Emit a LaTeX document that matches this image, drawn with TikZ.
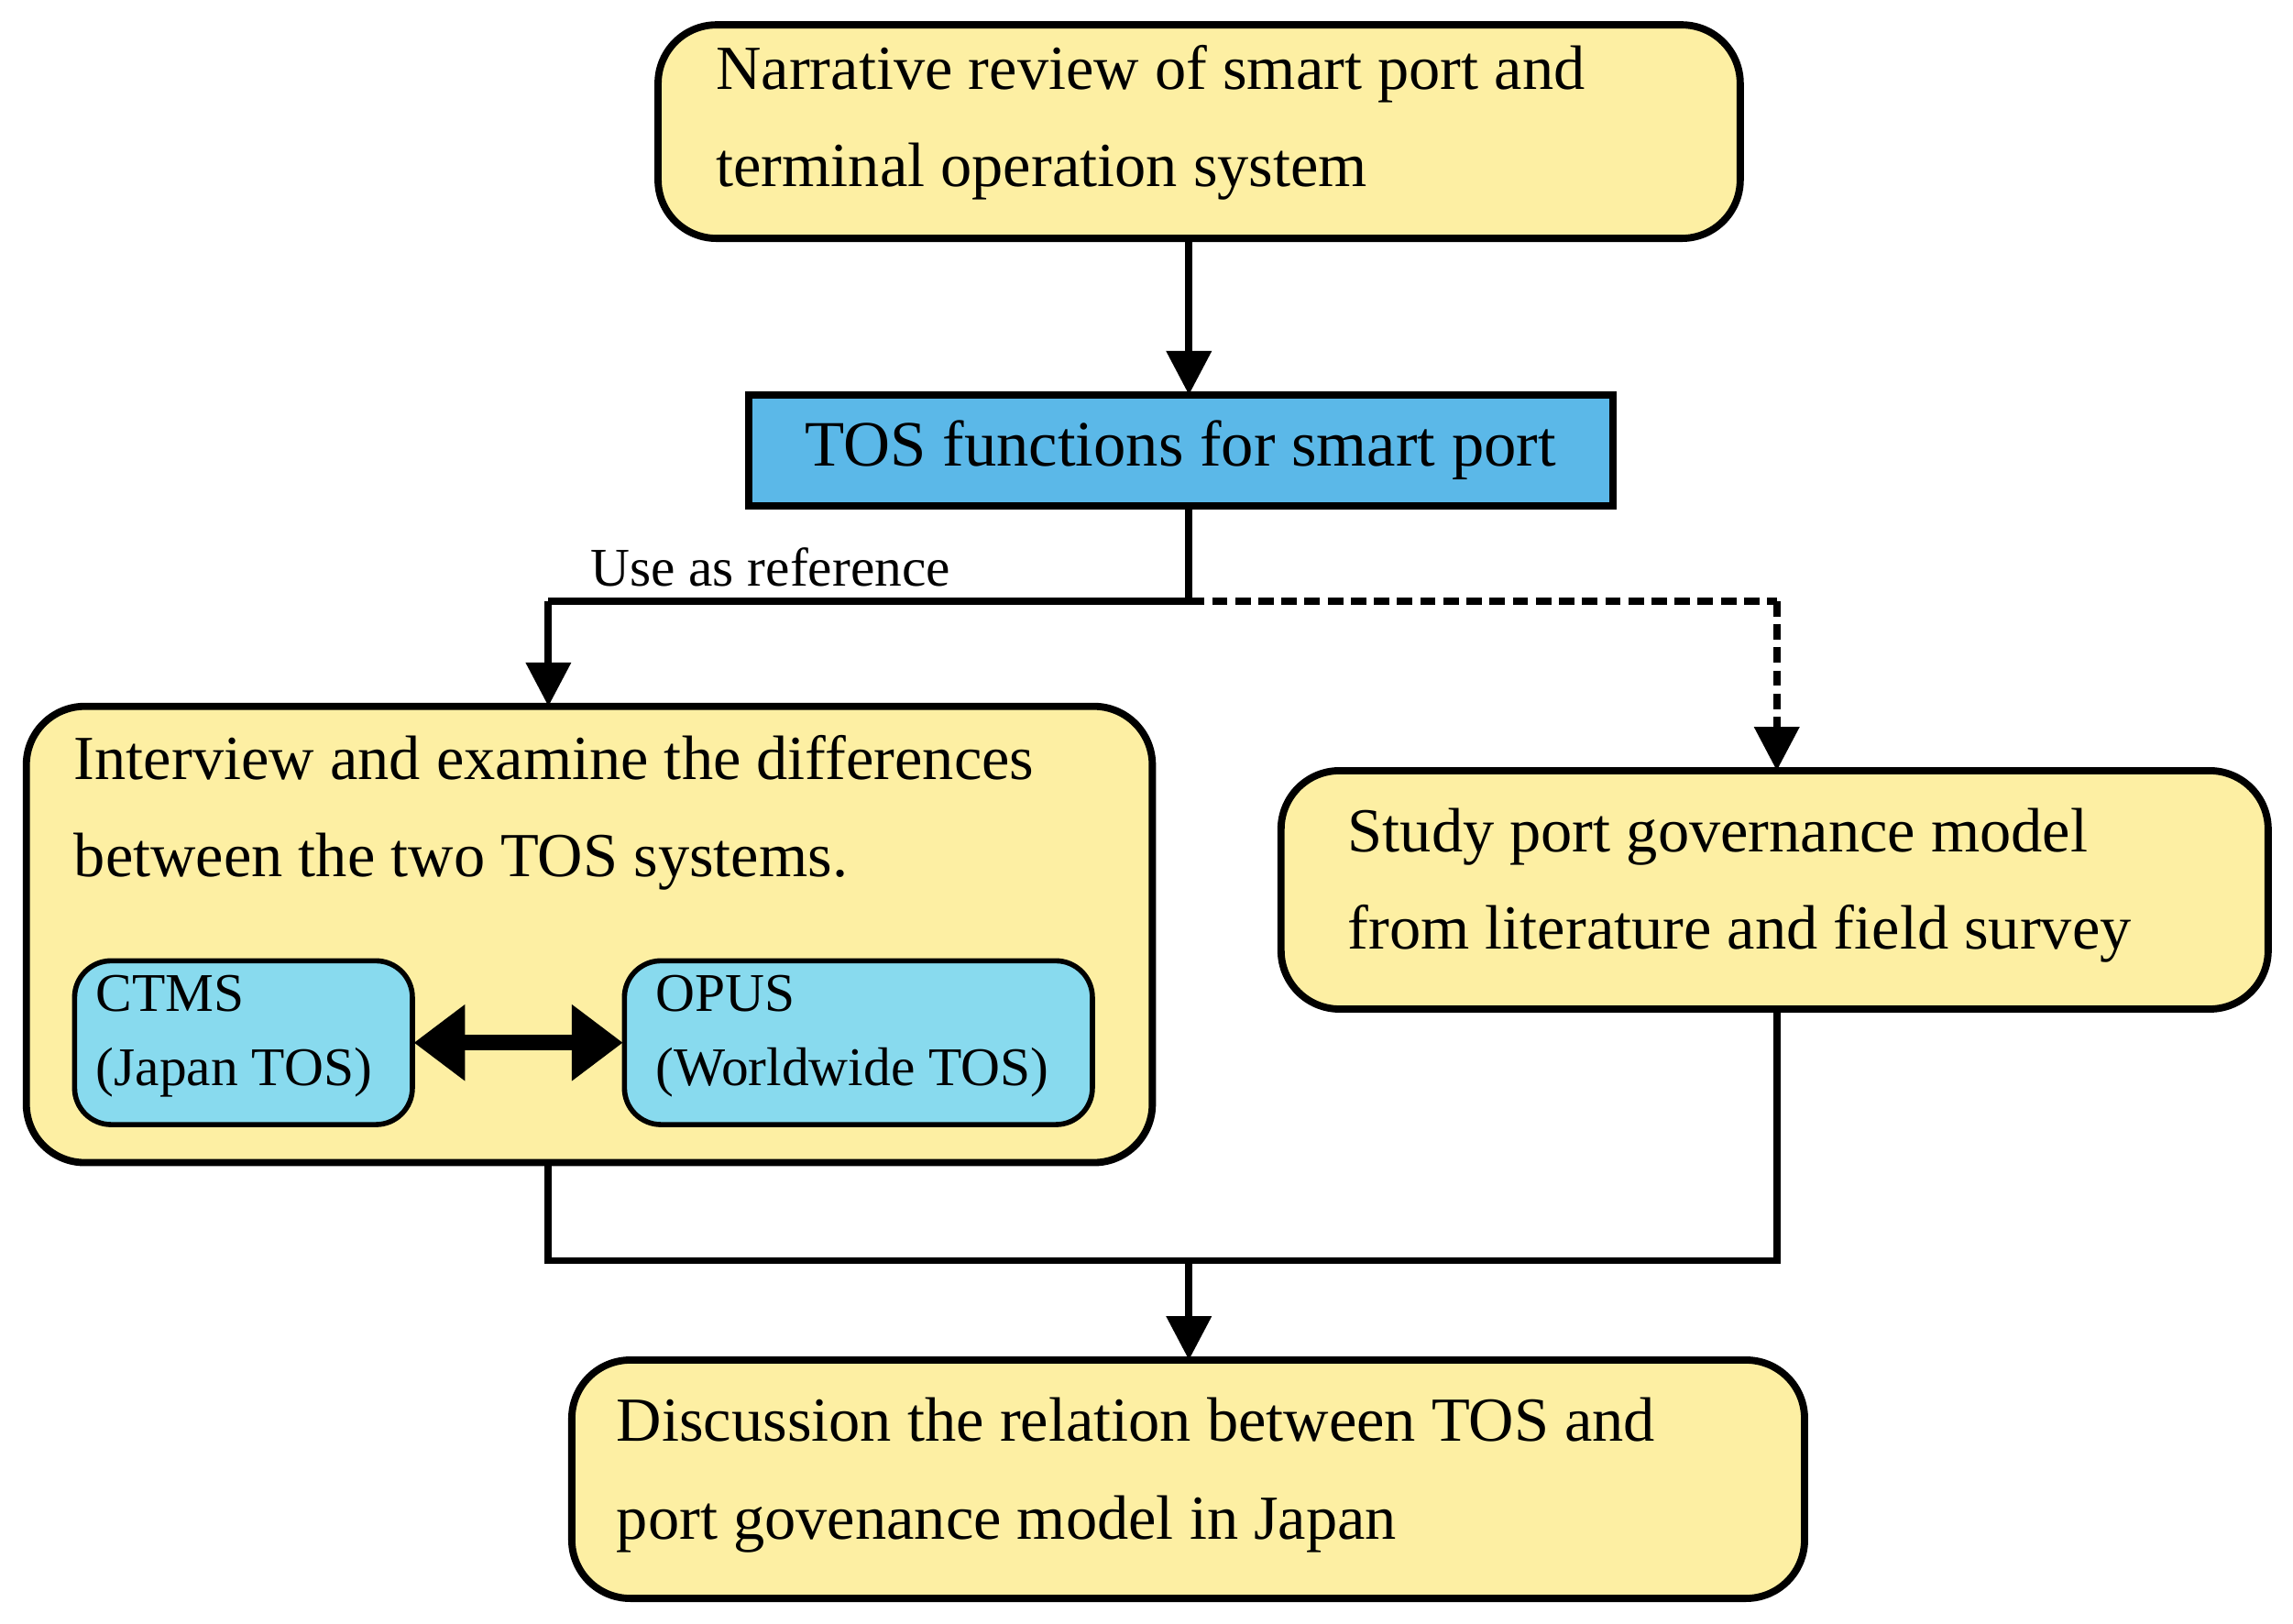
\documentclass[tikz,border=0pt]{standalone}
\usepackage{fontspec}
\setmainfont{Liberation Serif}
\usetikzlibrary{arrows.meta}
\definecolor{pale}{HTML}{FDEFA3}
\definecolor{tosblue}{HTML}{5BB8E8}
\definecolor{lblue}{HTML}{88DAEE}
\begin{document}
\begin{tikzpicture}[x=0.1mm,y=-0.1mm,
  box/.style={draw=black,line width=1.4pt,fill=pale,rounded corners=4mm},
  sbox/.style={draw=black,line width=1pt,fill=lblue,rounded corners=2.5mm},
  txt/.style={anchor=north west,align=left,font=\fontsize{12.2}{19}\selectfont,inner sep=0pt},
  stxt/.style={anchor=north west,align=left,font=\fontsize{10.6}{14.5}\selectfont,inner sep=0pt},
  conn/.style={line width=1.4pt},
  arr/.style={conn,-{Triangle[length=3mm,width=3mm]}}]
\useasboundingbox (0,0) rectangle (1568,1110);
\draw[box] (450,17) rectangle (1190,163);
\node[txt] (t1) at (489,30) {Narrative review of smart port and\\terminal operation system};
\node[draw,line width=1.4pt,fill=tosblue,minimum width=59.1mm,minimum height=7.6mm,font=\fontsize{12.6}{15}\selectfont] (tos) at (807.5,308) {TOS functions for smart port};
\coordinate (top) at (450,17);
\coordinate (b1) at (813,163);
\draw[arr] (b1) -- (813,270);
\coordinate (j) at (813,411);
\coordinate (jl) at (375,411);
\coordinate (jr) at (1215,411);
\draw[conn] (813,346) -- (j) -- (jl);
\draw[conn,dashed,dash pattern=on 3pt off 1.5pt] (j) -- (jr);
\node[anchor=south west,inner sep=0pt,font=\fontsize{10.6}{12}\selectfont] (ref) at (403,402) {Use as reference};
\draw[arr] (jl) -- (375,483);
\draw[arr,dashed,dash pattern=on 3pt off 1.5pt] (jr) -- (1215,527);
\draw[box] (18,483) rectangle (788,795);
\node[txt] (t3) at (50,502) {Interview and examine the differences\\between the two TOS systems.};
\draw[sbox] (51,657) rectangle (282,769);
\node[stxt] (ctms) at (65,666) {CTMS\\(Japan TOS)};
\draw[sbox] (427,657) rectangle (747,769);
\node[stxt] (opus) at (448,666) {OPUS\\(Worldwide TOS)};
\draw[line width=3pt,{Triangle[length=3.5mm,width=5mm]}-{Triangle[length=3.5mm,width=5mm]}] (283,713) -- (426,713);
\draw[box] (876,527) rectangle (1551,690);
\node[txt] (t4) at (921,552) {Study port governance model\\from literature and field survey};
\coordinate (m) at (813,862);
\draw[conn] (375,795) -- (375,862) -- (1215,862) -- (1215,690);
\draw[arr] (m) -- (813,930);
\draw[box] (391,930) rectangle (1234,1093);
\node[txt] (t5) at (421,955) {Discussion the relation between TOS and\\port govenance model in Japan};
\end{tikzpicture}
\end{document}
